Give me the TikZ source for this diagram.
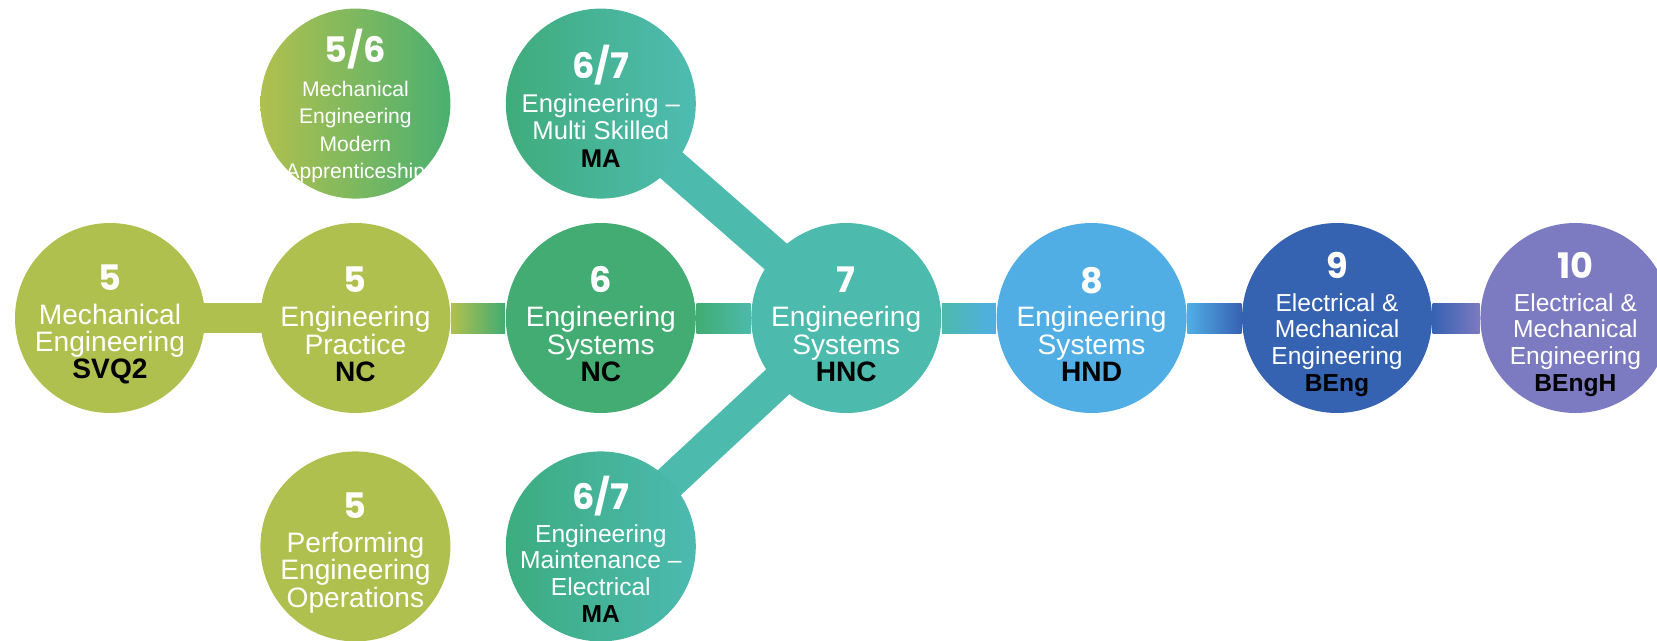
\documentclass[tikz,border=0pt]{standalone}
\usepackage{fontspec}
\setmainfont{Liberation Sans}
\newfontfamily\numfont{Poppins}
\usetikzlibrary{positioning,backgrounds}

\definecolor{lvlolive}{RGB}{176,192,78}
\definecolor{lvlgreen}{RGB}{66,172,114}
\definecolor{lvlteal}{RGB}{76,186,172}
\definecolor{lvlsky}{RGB}{80,174,228}
\definecolor{lvlnavy}{RGB}{54,98,178}
\definecolor{lvlpurple}{RGB}{124,122,192}

\newcommand{\lvnum}[1]{\rule{0pt}{11pt}{\numfont\bfseries\fontsize{10}{10}\selectfont #1}}
\newcommand{\qual}[1]{{\color{black}\bfseries #1}}

\tikzset{
  lvl/.style={circle, minimum size=1.9cm, inner sep=-6mm, align=center, text=white,
              font=\fontsize{8}{7.8}\selectfont},
  small/.style={font=\fontsize{7}{7.6}\selectfont},
  band/.style={line width=0.3cm},
}

\begin{document}
\begin{tikzpicture}
  \useasboundingbox (0,0) rectangle (16.57,6.40);

  % main row
  \node[lvl, fill=lvlolive] (svq) at (1.10,3.22)
    {\lvnum{5}\\[1.8pt] Mechanical\\Engineering\\\qual{SVQ2}};
  \node[lvl, fill=lvlolive, right=0.54cm of svq] (ncprac)
    {\lvnum{5}\\[1.8pt] Engineering\\Practice\\\qual{NC}};
  \node[lvl, fill=lvlgreen, right=0.54cm of ncprac] (ncsys)
    {\lvnum{6}\\[1.8pt] Engineering\\Systems\\\qual{NC}};
  \node[lvl, fill=lvlteal, right=0.54cm of ncsys] (hnc)
    {\lvnum{7}\\[1.8pt] Engineering\\Systems\\\qual{HNC}};
  \node[lvl, fill=lvlsky, right=0.54cm of hnc] (hnd)
    {\lvnum{8}\\[1.8pt] Engineering\\Systems\\\qual{HND}};
  \node[lvl, small, fill=lvlnavy, right=0.54cm of hnd] (beng)
    {\lvnum{9}\\[1.8pt] Electrical \&\\Mechanical\\Engineering\\\qual{BEng}};
  \node[lvl, small, fill=lvlpurple, right=0.47cm of beng] (bengh)
    {\lvnum{10}\\[1.8pt] Electrical \&\\Mechanical\\Engineering\\\qual{BEngH}};

  % side entries
  \node[lvl, font=\fontsize{6}{7.8}\selectfont, left color=lvlolive, right color={rgb,255:red,74;green,176;blue,112},
        above=0.23cm of ncprac] (modapp)
    {\lvnum{5/6}\\[1.8pt] Mechanical\\Engineering\\Modern\\Apprenticeship};
  \node[lvl, font=\fontsize{7.3}{7.8}\selectfont, left color={rgb,255:red,64;green,172;blue,124}, right color={rgb,255:red,78;green,188;blue,178},
        above=0.23cm of ncsys] (mamulti)
    {\lvnum{6/7}\\[1.8pt] Engineering --\\Multi Skilled\\\qual{MA}};
  \node[lvl, fill=lvlolive, below=0.37cm of ncprac] (perf)
    {\lvnum{5}\\[1.8pt] Performing\\Engineering\\Operations};
  \node[lvl, font=\fontsize{7}{7.6}\selectfont, left color={rgb,255:red,60;green,172;blue,128}, right color={rgb,255:red,76;green,186;blue,176},
        below=0.37cm of ncsys] (maelec)
    {\lvnum{6/7}\\[1.8pt] Engineering\\Maintenance --\\Electrical\\\qual{MA}};

  \begin{scope}[on background layer]
    \draw[band, lvlolive] (svq.center) -- (ncprac.center);
    \shade[left color=lvlolive, right color=lvlgreen]
      ([yshift=-0.15cm]ncprac.east) rectangle ([yshift=0.15cm]ncsys.west);
    \shade[left color=lvlgreen, right color=lvlteal]
      ([yshift=-0.15cm]ncsys.east) rectangle ([yshift=0.15cm]hnc.west);
    \shade[left color=lvlteal, right color=lvlsky]
      ([yshift=-0.15cm]hnc.east) rectangle ([yshift=0.15cm]hnd.west);
    \shade[left color=lvlsky, right color=lvlnavy]
      ([yshift=-0.15cm]hnd.east) rectangle ([yshift=0.15cm]beng.west);
    \shade[left color=lvlnavy, right color=lvlpurple]
      ([yshift=-0.15cm]beng.east) rectangle ([yshift=0.15cm]bengh.west);
    \draw[band, line width=0.34cm, lvlteal] (mamulti.center) -- (hnc.center);
    \draw[band, line width=0.34cm, lvlteal] (maelec.center) -- (hnc.center);
  \end{scope}
\end{tikzpicture}
\end{document}
